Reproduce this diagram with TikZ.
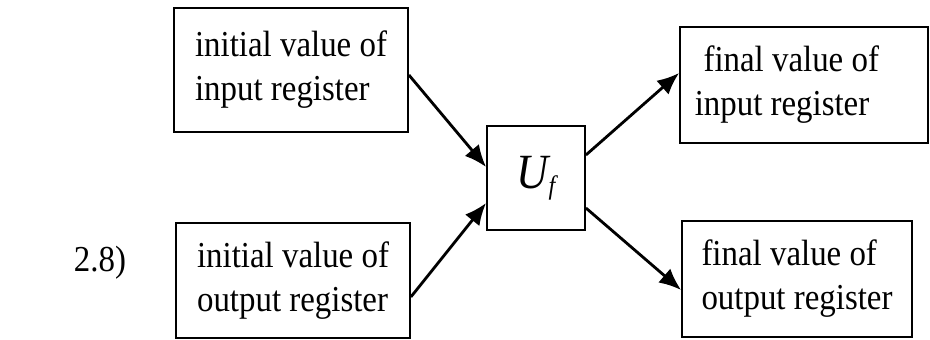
\documentclass[tikz,border=0pt]{standalone}
\usepackage{fontspec}
\setmainfont[FakeStretch=0.9]{Liberation Serif}
\usetikzlibrary{arrows.meta}

\begin{document}
\begin{tikzpicture}[>={Latex[length=0.55cm,width=0.46cm]},
  reg/.style={draw,line width=1.3pt,inner sep=0pt,align=left,
    font=\fontsize{26}{31.3}\selectfont},
  flow/.style={->,line width=2pt}]
\useasboundingbox (0,0) rectangle (23.25,8.475);
\node[reg,minimum width=5.85cm,minimum height=3.1cm] (iin) at (7.275,6.725)
  {initial value of\\input register};
\node[reg,minimum width=5.85cm,minimum height=2.875cm] (iout) at (7.325,1.4625)
  {initial value of\\output register};
\node[draw,line width=1.3pt,minimum width=2.45cm,minimum height=2.6cm,
  font=\fontsize{35}{35}\selectfont] (uf) at (13.4,4.025)
  {\itshape U\raisebox{-0.12em}{\fontsize{19}{19}\selectfont f}};
\node[reg,minimum width=6.2cm,minimum height=2.9cm] (fin) at (20.1,6.35)
  {\hspace*{0.22cm}final value of\\input register\hspace*{1.1cm}};
\node[reg,minimum width=5.75cm,minimum height=2.9cm] (fout) at (19.925,1.5)
  {final value of\\output register};
\node[font=\fontsize{26}{28}\selectfont] (eq) at (2.5,1.9) {2.8)};
\draw[flow] ([yshift=-0.125cm]iin.east) -- ([yshift=0.275cm]uf.west);
\draw[flow] ([yshift=-0.41cm]iout.east) -- ([yshift=-0.625cm]uf.west);
\draw[flow] ([yshift=0.575cm]uf.east) -- ([yshift=0.3cm]fin.west);
\draw[flow] ([yshift=-0.75cm]uf.east) -- ([yshift=-0.275cm]fout.west);
\end{tikzpicture}
\end{document}
